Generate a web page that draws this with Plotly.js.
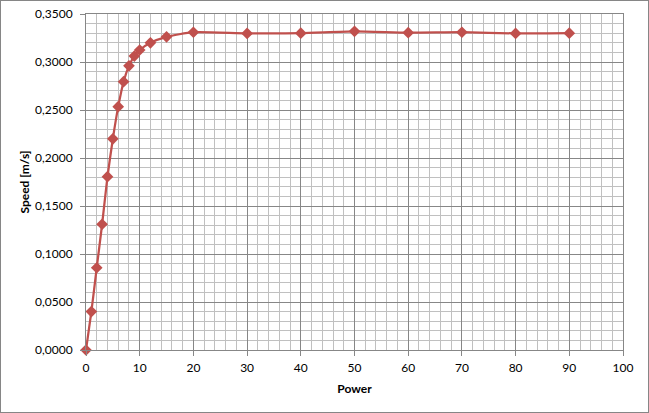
<!DOCTYPE html>
<html>
<head>
<meta charset="utf-8">
<script src="https://cdn.plot.ly/plotly-3.0.1.min.js"></script>
<style>
  html, body { margin: 0; padding: 0; background: #ffffff; }
  #chart { width: 649px; height: 413px; box-sizing: border-box; border: 1px solid #868686; }
</style>
</head>
<body>
<div id="chart"></div>
<script>
const power = [0, 1, 2, 3, 4, 5, 6, 7, 8, 9, 10, 12, 15, 20, 30, 40, 50, 60, 70, 80, 90];
const speed = [0.0000, 0.0400, 0.0857, 0.1310, 0.1805, 0.2200, 0.2535, 0.2795, 0.2960, 0.3062, 0.3125, 0.3200, 0.3262, 0.3310, 0.3298, 0.3300, 0.3320, 0.3305, 0.3310, 0.3298, 0.3300];
const xTitle = "Power";
const yTitle = "Speed [m/s]";

const majorGrid = "#878787";
const minorGrid = "#c0c0c0";
const fontFam = "Lato, 'Open Sans', sans-serif";

const trace = {
  x: power,
  y: speed,
  type: "scatter",
  mode: "lines+markers",
  line: { color: "#c0504d", width: 2.25, shape: "spline", smoothing: 0.6 },
  marker: { symbol: "diamond", size: 9, color: "#c0504d" },
  cliponaxis: false,
  hoverinfo: "x+y"
};

const layout = {
  width: 647,
  height: 411,
  margin: { l: 85, r: 25, t: 13, b: 62 },
  paper_bgcolor: "#ffffff",
  plot_bgcolor: "#ffffff",
  separators: ",.",
  showlegend: false,
  font: { family: fontFam, size: 12, color: "#000000" },
  xaxis: {
    range: [0, 100],
    dtick: 10,
    tick0: 0,
    showgrid: true,
    gridcolor: majorGrid,
    gridwidth: 1,
    minor: { dtick: 2, showgrid: true, gridcolor: minorGrid, gridwidth: 1 },
    showline: true,
    linecolor: majorGrid,
    linewidth: 1,
    mirror: true,
    zeroline: false,
    ticks: "outside",
    ticklen: 5,
    tickcolor: majorGrid,
    ticklabelstandoff: 2,
    tickfont: { family: fontFam, size: 12, color: "#000000" },
    title: { text: xTitle, font: { family: fontFam, size: 12, color: "#000000", weight: "bold" }, standoff: 10 },
    fixedrange: true
  },
  yaxis: {
    range: [0, 0.35],
    dtick: 0.05,
    tick0: 0,
    tickformat: ".4f",
    showgrid: true,
    gridcolor: majorGrid,
    gridwidth: 1,
    minor: { dtick: 0.01, showgrid: true, gridcolor: minorGrid, gridwidth: 1 },
    showline: true,
    linecolor: majorGrid,
    linewidth: 1,
    mirror: true,
    zeroline: false,
    ticks: "outside",
    ticklen: 5,
    tickcolor: majorGrid,
    ticklabelstandoff: 5,
    tickfont: { family: fontFam, size: 12, color: "#000000" },
    title: { text: yTitle, font: { family: fontFam, size: 12, color: "#000000", weight: "bold" }, standoff: 2 },
    fixedrange: true
  }
};

Plotly.newPlot("chart", [trace], layout, { displayModeBar: false, staticPlot: true });
</script>
</body>
</html>
